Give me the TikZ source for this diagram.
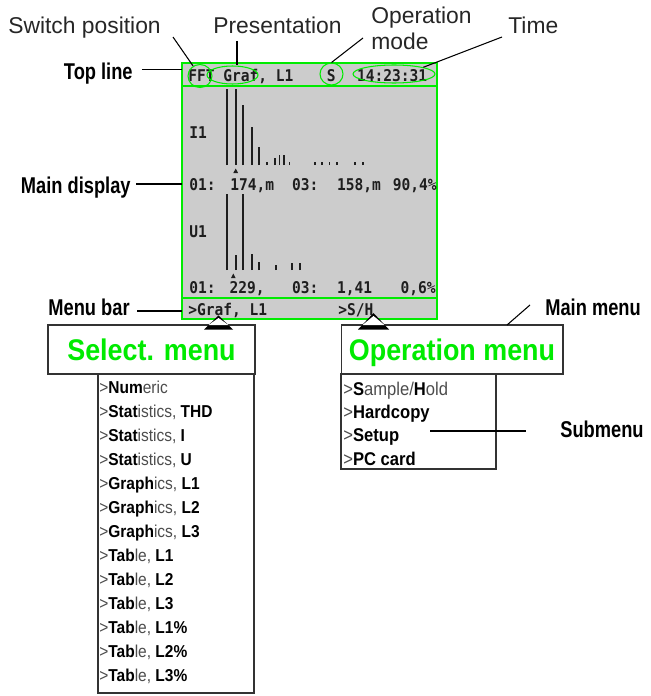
\documentclass[tikz,border=0pt]{standalone}
\usepackage{fontspec}
\setmainfont{Liberation Sans}
\newfontfamily\narrowfont[FakeStretch=0.8]{Liberation Sans}
\newfontfamily\menufont[FakeStretch=0.9]{Liberation Sans}
\newfontfamily\lcdfont[FakeStretch=0.9]{DejaVu Sans Mono}
\usetikzlibrary{shapes.geometric, positioning}
\definecolor{lcdgreen}{RGB}{0,235,0}
\definecolor{lcdgray}{RGB}{204,204,204}
\definecolor{lcdink}{RGB}{30,30,30}
\newcommand{\lite}[1]{{\color{black!70}#1}}
\newcommand{\mitem}[3]{\lite{>}\textbf{#1}\lite{#2}\textbf{#3}}

\begin{document}
\begin{tikzpicture}[
    x=0.02cm, y=-0.02cm,
    callout/.style={draw, line width=0.6pt},
    toplbl/.style={font=\fontsize{13}{15.3}\selectfont, text=black!85, inner sep=0pt, align=left},
    sidelbl/.style={font=\narrowfont\bfseries\fontsize{13}{15}\selectfont, inner sep=0pt},
    ring/.style={draw=lcdgreen, ellipse, line width=0.6pt, inner sep=0pt},
    lcd/.style={font=\lcdfont\bfseries\fontsize{9.2}{10}\selectfont, text=lcdink, inner sep=0pt},
    lcdline/.style={draw=lcdgreen, line width=1.6pt},
    bar/.style={draw=lcdink, line width=1.1pt},
    menubox/.style={draw=black!80, line width=0.6pt, fill=white, inner sep=0pt,
      font=\menufont\bfseries\fontsize{17}{20}\selectfont, text=lcdgreen, text height=12pt, text depth=0pt},
    listbox/.style={draw=black!80, line width=0.6pt, fill=white, inner sep=0pt},
    sel/.style={font=\menufont\fontsize{9.8}{11}\selectfont, inner sep=0pt, anchor=base west},
    opr/.style={font=\menufont\fontsize{10.5}{12}\selectfont, inner sep=0pt, anchor=base west}
  ]
  \useasboundingbox (0,0) rectangle (650,696);

  % ── display ──
  \node[draw=lcdgreen, line width=1.6pt, fill=lcdgray, minimum width=5.1cm, minimum height=5.12cm, inner sep=0pt] (screen) at (309.5,191) {};
  \draw[lcdline] (182,86) -- (437,86);
  \draw[lcdline] (182,298) -- (437,298);

  % top line
  \node[lcd, anchor=base west] (pres) at (188,82) {FFT Graf, L1};
  \node[lcd, anchor=base west] (mode) at (326.5,82) {S};
  \node[lcd, anchor=base west] (clock) at (356.7,82) {14:23:31};

  % spectrum I1
  \node[lcd, anchor=base west] (ione) at (189,138) {I1};
  \foreach \x/\t in {227/89, 235.7/89, 243.3/105, 251.7/127, 259.3/147, 275/158, 279.5/155, 284/155}
    \draw[bar] (\x,165) -- (\x,\t);
  \foreach \x in {266.7, 289.5, 315, 322, 329.5, 337, 355, 363}
    \draw[bar] (\x,165) -- (\x,161.5);
  \fill[lcdink] (233.3,173) -- (238.1,173) -- (235.7,168.5) -- cycle;
  \node[lcd, anchor=base west] (ia) at (189,190) {01:};
  \node[lcd, anchor=base west] (ib) at (230,190) {174,m};
  \node[lcd, anchor=base west] (ic) at (291.7,190) {03:};
  \node[lcd, anchor=base west] (id) at (336.7,190) {158,m};
  \node[lcd, anchor=base east] (ie) at (437,190) {90,4\%};

  % spectrum U1
  \node[lcd, anchor=base west] (uone) at (189,237) {U1};
  \foreach \x/\t in {227.3/194, 235.7/255, 243.3/194, 251.7/254, 259.3/262, 276/265, 291.7/263, 300/263}
    \draw[bar] (\x,270) -- (\x,\t);
  \fill[lcdink] (231,278) -- (235.6,278) -- (233.3,273.5) -- cycle;
  \node[lcd, anchor=base west] (ua) at (189,293) {01:};
  \node[lcd, anchor=base west] (ub) at (229.3,293) {229,};
  \node[lcd, anchor=base west] (uc) at (291.7,293) {03:};
  \node[lcd, anchor=base west] (ud) at (336.7,293) {1,41};
  \node[lcd, anchor=base east] (ue) at (436,293) {0,6\%};

  % menu bar
  \node[lcd, anchor=base west] (mbleft) at (188,315) {>Graf, L1};
  \node[lcd, anchor=base west] (mbright) at (338,315) {>S/H};

  % rings
  \node[ring, minimum width=0.48cm, minimum height=0.46cm] (ffring) at (200,76) {};
  \node[ring, minimum width=1.02cm, minimum height=0.36cm] (grafring) at (232.5,75) {};
  \node[ring, minimum width=0.46cm, minimum height=0.44cm] (sring) at (331.5,74) {};
  \node[ring, minimum width=1.64cm, minimum height=0.36cm] (timering) at (394,74) {};

  % ── labels above ──
  \node[toplbl, anchor=base west] (swlbl) at (8,34) {Switch position};
  \node[toplbl, anchor=base west] (preslbl) at (213,34) {Presentation};
  \node[toplbl, anchor=base west] (oplbl) at (371,50) {Operation\\mode};
  \node[toplbl, anchor=base west] (timelbl) at (508,34) {Time};
  \coordinate (swstart) at (173,37);
  \coordinate (presstart) at (237,41);
  \coordinate (opstart) at (363,38);
  \coordinate (timestart) at (502,37);
  \draw[callout] (swstart) -- (ffring);
  \draw[callout] (presstart) -- (presstart |- grafring.north);
  \draw[callout] (opstart) -- (sring.north);
  \draw[callout] (timestart) -- (timering.north east);

  % ── Select. menu ──
  \node[menubox, minimum width=4.14cm, minimum height=0.98cm] (selbox) at (151.5,349.5) {Select. menu};
  \node[listbox, minimum width=3.12cm, minimum height=6.38cm] (sellist) at (176,533.5) {};
  \node[sel] (s1) at (99,393.5) {\mitem{Num}{eric}{}};
  \node[sel] (s2) at (99,417.5) {\mitem{Stat}{istics, }{THD}};
  \node[sel] (s3) at (99,441.5) {\mitem{Stat}{istics, }{I}};
  \node[sel] (s4) at (99,465.5) {\mitem{Stat}{istics, }{U}};
  \node[sel] (s5) at (99,489.5) {\mitem{Graph}{ics, }{L1}};
  \node[sel] (s6) at (99,513.5) {\mitem{Graph}{ics, }{L2}};
  \node[sel] (s7) at (99,537.5) {\mitem{Graph}{ics, }{L3}};
  \node[sel] (s8) at (99,561.5) {\mitem{Tab}{le, }{L1}};
  \node[sel] (s9) at (99,585.5) {\mitem{Tab}{le, }{L2}};
  \node[sel] (s10) at (99,609.5) {\mitem{Tab}{le, }{L3}};
  \node[sel] (s11) at (99,633.5) {\mitem{Tab}{le, }{L1\%}};
  \node[sel] (s12) at (99,657.5) {\mitem{Tab}{le, }{L2\%}};
  \node[sel] (s13) at (99,681.5) {\mitem{Tab}{le, }{L3\%}};

  % ── Operation menu ──
  \node[menubox, minimum width=4.44cm, minimum height=0.98cm] (opbox) at (452,349.5) {Operation menu};
  \node[listbox, minimum width=3.1cm, minimum height=1.9cm] (oplist) at (418.5,421.5) {};
  \node[opr] (o1) at (343,395) {\lite{>}\textbf{S}\lite{ample/}\textbf{H}\lite{old}};
  \node[opr] (o2) at (343,418.3) {\mitem{Hardcopy}{}{}};
  \node[opr] (o3) at (343,441.6) {\mitem{Setup}{}{}};
  \node[opr] (o4) at (343,465) {\mitem{PC card}{}{}};

  % ── labels at the side ──
  \node[sidelbl, anchor=base east] (toplinelbl) at (133,80) {Top line};
  \node[sidelbl, anchor=base east] (mainlbl) at (131,193) {Main display};
  \node[sidelbl, anchor=base east] (menubarlbl) at (130,315) {Menu bar};
  \node[sidelbl, anchor=base west] (mainmenulbl) at (545,315) {Main menu};
  \node[sidelbl, anchor=base west] (sublbl) at (560,437) {Submenu};
  \coordinate (toplineend) at (182,69.5);
  \coordinate (mainend) at (182,184);
  \coordinate (menubarend) at (182,311);
  \coordinate (mainmenustart) at (530,305);
  \coordinate (mainmenuend) at (507,325);
  \coordinate (substart) at (430,431);
  \coordinate (subend) at (526,431);
  \draw[callout] ([xshift=5pt]toplinelbl.east |- toplineend) -- (toplineend);
  \draw[callout] ([xshift=3pt]mainlbl.east |- mainend) -- (mainend);
  \draw[callout] ([xshift=4pt]menubarlbl.east |- menubarend) -- (menubarend);
  \draw[callout] (mainmenustart) -- (mainmenuend);
  \draw[callout] (substart) -- (subend);

  % pointers
  \fill[black] (204,329.5) -- (233,329.5) -- (218.5,315.5) -- cycle;
  \fill[white] (208.5,325) -- (228.5,325) -- (218.5,318) -- cycle;
  \fill[black] (358,329.5) -- (389,329.5) -- (373.5,313) -- cycle;
  \fill[white] (362.5,325) -- (384.5,325) -- (373.5,316) -- cycle;

\end{tikzpicture}
\end{document}
